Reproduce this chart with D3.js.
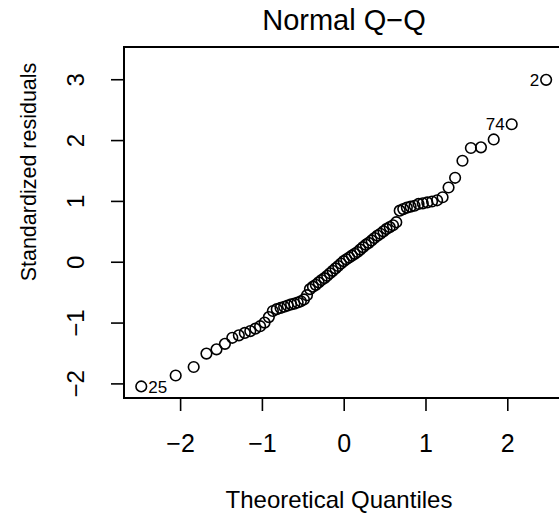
<!DOCTYPE html>
<html>
<head>
<meta charset="utf-8">
<script src="https://cdn.jsdelivr.net/npm/d3@7"></script>
<style>
  body { margin: 0; background: #fff; }
  text { font-family: "Liberation Sans", Arial, sans-serif; fill: #000; }
</style>
</head>
<body>
<div id="graph-location"></div>
<script>
var margin = { top: 47, right: 0, bottom: 123, left: 124 },
    width = 440,
    height = 398 - 47;

// theoretical quantiles (x) and sorted standardized residuals (y)
var quantiles = [-2.475, -2.054, -1.834, -1.678, -1.555, -1.452, -1.362, -1.282, -1.209, -1.142,
    -1.080, -1.022, -0.967, -0.915, -0.866, -0.818, -0.772, -0.728, -0.685, -0.643,
    -0.603, -0.563, -0.524, -0.486, -0.449, -0.413, -0.376, -0.341, -0.306, -0.271,
    -0.236, -0.202, -0.168, -0.134, -0.100, -0.067, -0.033, 0.000,
    0.033, 0.067, 0.100, 0.134, 0.168, 0.202, 0.236, 0.271, 0.306, 0.341,
    0.376, 0.413, 0.449, 0.486, 0.524, 0.563, 0.603, 0.643, 0.685, 0.728,
    0.772, 0.818, 0.866, 0.915, 0.967, 1.022, 1.080, 1.142, 1.209, 1.282,
    1.362, 1.452, 1.555, 1.678, 1.834, 2.054, 2.475];

var residuals = [-2.05, -1.87, -1.73, -1.51, -1.44, -1.35, -1.25, -1.21, -1.17, -1.14,
    -1.10, -1.06, -1.00, -0.91, -0.81, -0.78, -0.76, -0.74, -0.72, -0.70,
    -0.69, -0.67, -0.65, -0.62, -0.55, -0.45, -0.41, -0.38, -0.34, -0.30,
    -0.27, -0.23, -0.19, -0.15, -0.11, -0.07, -0.03, 0.01,
    0.04, 0.07, 0.10, 0.13, 0.16, 0.20, 0.24, 0.28, 0.31, 0.35,
    0.39, 0.43, 0.46, 0.50, 0.54, 0.57, 0.60, 0.65, 0.84, 0.865,
    0.89, 0.905, 0.92, 0.95, 0.96, 0.975, 0.99, 1.01, 1.06, 1.22,
    1.38, 1.66, 1.87, 1.88, 2.01, 2.26, 2.99];

// labelled extreme points: position in sorted order, observation number
var labelRanks = [0, 73, 74];
var labelIds = ["25", "74", "2"];

var xTicks = [-2, -1, 0, 1, 2];
var yTicks = [-2, -1, 0, 1, 2, 3];

var points = quantiles.map(function(q, i) {
    return { q: q, r: residuals[i] };
});

var x = d3.scaleLinear()
    .domain([-2.686, 2.686])
    .range([0, 439.4]);

var y = d3.scaleLinear()
    .domain([-2.24, 3.53])
    .range([height, 0]);

var svg = d3.select("#graph-location")
    .append("svg")
    .attr("width", 559)
    .attr("height", 521)
    .append("g")
    .attr("transform", "translate(" + margin.left + ", " + margin.top + ")");

//x axis
var xAxis = svg.append("g")
    .attr("transform", "translate(0, " + height + ")")
    .call(d3.axisBottom(x).tickValues(xTicks).tickSize(13).tickFormat(function(d) {
        return d < 0 ? "\u2212" + Math.abs(d) : d;
    }));
xAxis.select(".domain").remove();
xAxis.selectAll("line").attr("stroke", "#000").attr("stroke-width", 1.6);
xAxis.selectAll("text")
    .attr("y", 54)
    .attr("dy", 0)
    .style("font-size", "25px")
    .attr("fill", "#000");

//y axis, labels parallel to the axis like R
var yAxis = svg.append("g")
    .call(d3.axisLeft(y).tickValues(yTicks).tickSize(13).tickFormat(function(d) {
        return d < 0 ? "\u2212" + Math.abs(d) : d;
    }));
yAxis.select(".domain").remove();
yAxis.selectAll("line").attr("stroke", "#000").attr("stroke-width", 1.6);
yAxis.selectAll("text")
    .attr("x", 0)
    .attr("y", -40)
    .attr("dy", 0)
    .attr("text-anchor", "middle")
    .attr("transform", "rotate(-90)")
    .style("font-size", "24px")
    .attr("fill", "#000");

//box
svg.append("rect")
    .attr("x", 0)
    .attr("y", 0)
    .attr("width", x.range()[1])
    .attr("height", height)
    .attr("fill", "none")
    .attr("stroke", "#000")
    .attr("stroke-width", 2);

//points
svg.append("g")
    .selectAll("circle")
    .data(points)
    .join("circle")
    .attr("cx", function(d) { return x(d.q); })
    .attr("cy", function(d) { return y(d.r); })
    .attr("r", 5.3)
    .attr("fill", "none")
    .attr("stroke", "#000")
    .attr("stroke-width", 1.6);

//point ids
svg.append("g")
    .selectAll("text")
    .data(labelRanks)
    .join("text")
    .attr("x", function(d) { return x(points[d].q) + (points[d].q < 0 ? 7 : -7); })
    .attr("y", function(d) { return y(points[d].r); })
    .attr("dy", "0.36em")
    .attr("text-anchor", function(d) { return points[d].q < 0 ? "start" : "end"; })
    .style("font-size", "17px")
    .text(function(d, i) { return labelIds[i]; });

//title
svg.append("text")
    .attr("x", 344 - margin.left)
    .attr("y", 30 - margin.top)
    .attr("text-anchor", "middle")
    .style("font-size", "29px")
    .text("Normal Q\u2212Q");

//x label
svg.append("text")
    .attr("x", 339 - margin.left)
    .attr("y", 508 - margin.top)
    .attr("text-anchor", "middle")
    .style("font-size", "24px")
    .text("Theoretical Quantiles");

//y label
svg.append("text")
    .attr("transform", "translate(" + (36 - margin.left) + ", " + (172 - margin.top) + ") rotate(-90)")
    .attr("text-anchor", "middle")
    .style("font-size", "21.5px")
    .text("Standardized residuals");
</script>
</body>
</html>
